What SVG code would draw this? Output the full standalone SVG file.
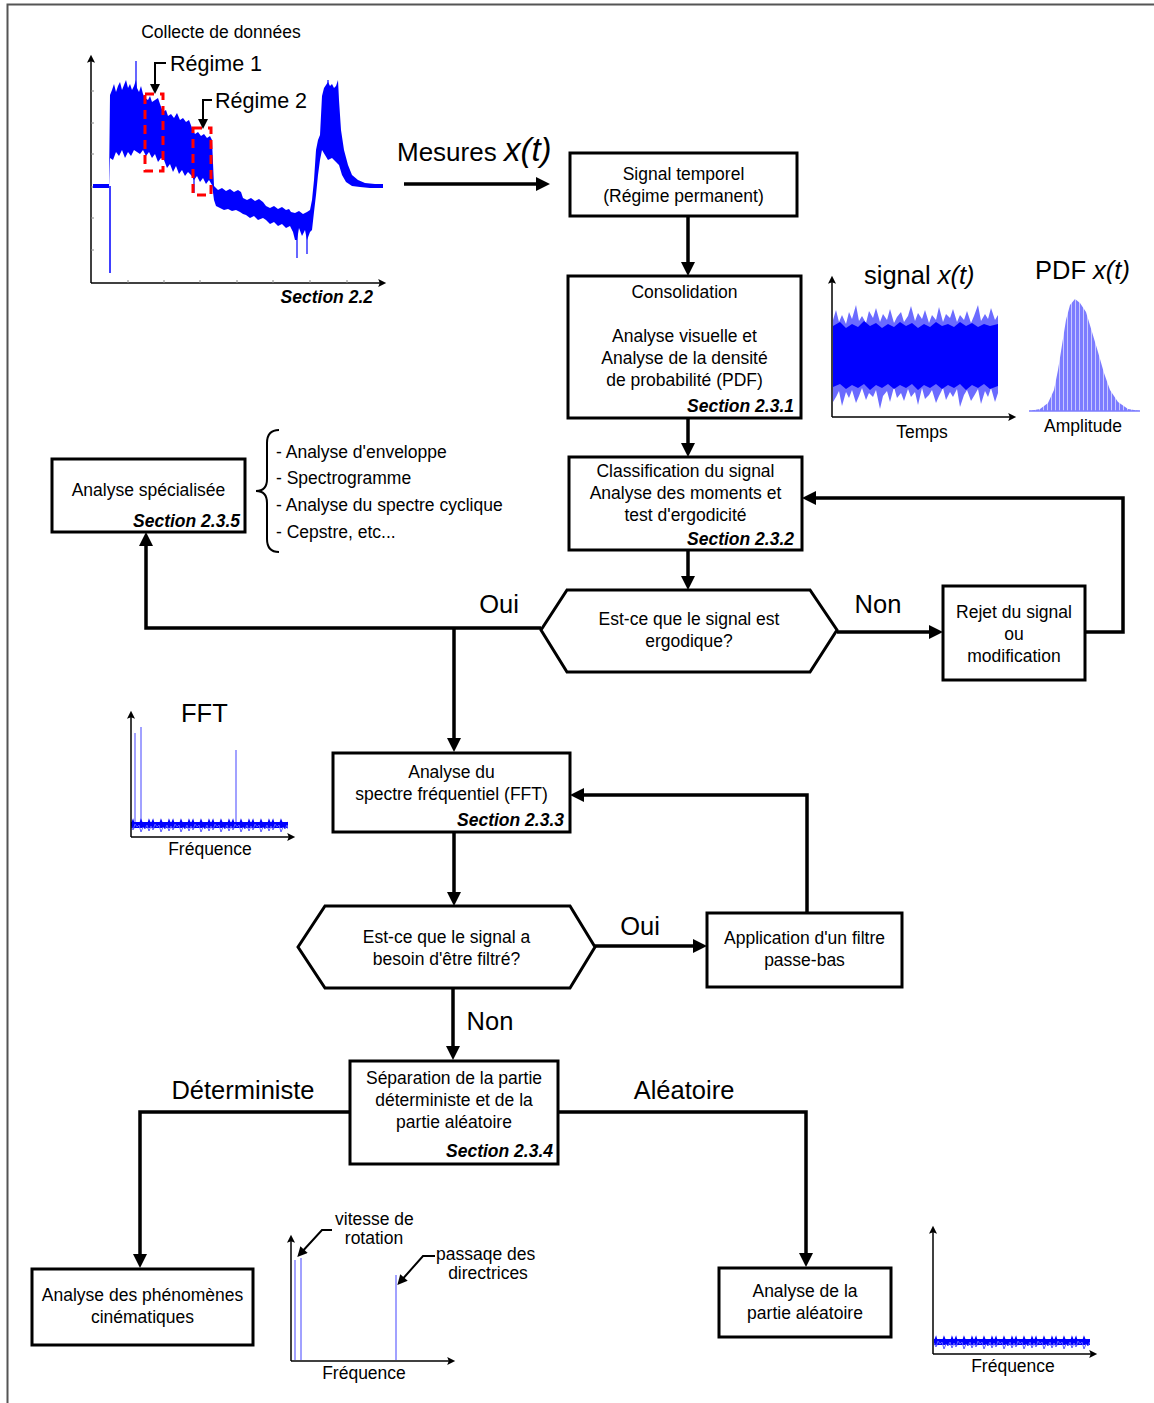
<svg xmlns="http://www.w3.org/2000/svg" width="1154" height="1403" viewBox="0 0 1154 1403">
<defs>
<style>
.box{fill:#fff;stroke:#000;stroke-width:3}
.t{font-family:"Liberation Sans",Arial,sans-serif;font-size:17.5px;fill:#000}
.c{text-anchor:middle}
.sec{font-weight:bold;font-style:italic;text-anchor:end}
.big{font-size:25.5px}
.conn{fill:none;stroke:#000;stroke-width:3.5;marker-end:url(#ah)}
.ax{fill:none;stroke:#000;stroke-width:1.5;marker-end:url(#sa)}
.call{fill:none;stroke:#000;stroke-width:2;marker-end:url(#ca)}
.tick{stroke:#888;stroke-width:1}
.spk{stroke:#6f6fff;stroke-width:1.3}
.n1{fill:none;stroke:#0000ff;stroke-width:1.2}
.n2{fill:none;stroke:#5a5aff;stroke-width:1}
</style>
<marker id="ah" viewBox="0 0 10 10" refX="4.3" refY="5" markerWidth="14" markerHeight="14" markerUnits="userSpaceOnUse" orient="auto"><path d="M0,0 L10,5 L0,10 z" fill="#000"/></marker>
<marker id="sa" viewBox="0 0 10 10" refX="6" refY="5" markerWidth="9" markerHeight="8" markerUnits="userSpaceOnUse" orient="auto"><path d="M0,0 L10,5 L0,10 L2,5 z" fill="#000"/></marker>
<marker id="ca" viewBox="0 0 10 10" refX="6" refY="5" markerWidth="11" markerHeight="10" markerUnits="userSpaceOnUse" orient="auto"><path d="M0,0 L10,5 L0,10 z" fill="#000"/></marker>
<pattern id="stripes" width="4" height="10" patternUnits="userSpaceOnUse"><rect width="4" height="10" fill="#7c7cff"/><rect x="3" width="1" height="10" fill="#c8c8ff"/></pattern>
<clipPath id="clipFft"><rect x="131" y="800" width="157" height="40"/></clipPath>
<clipPath id="clipRand"><rect x="934" y="1320" width="156" height="40"/></clipPath>
<path id="zz1" d="M0,0 l2,-5 l2,7 l2,-4 l2,3 l2,-6 l2,5 l2,-2 l2,4 l2,-7 l2,5 l2,-5 l2,7 l2,-4 l2,3 l2,-6 l2,5 l2,-2 l2,4 l2,-7 l2,5 l2,-5 l2,7 l2,-4 l2,3 l2,-6 l2,5 l2,-2 l2,4 l2,-7 l2,5 l2,-5 l2,7 l2,-4 l2,3 l2,-6 l2,5 l2,-2 l2,4 l2,-7 l2,5 l2,-5 l2,7 l2,-4 l2,3 l2,-6 l2,5 l2,-2 l2,4 l2,-7 l2,5 l2,-5 l2,7 l2,-4 l2,3 l2,-6 l2,5 l2,-2 l2,4 l2,-7 l2,5 l2,-5 l2,7 l2,-4 l2,3 l2,-6 l2,5 l2,-2 l2,4 l2,-7 l2,5 l2,-5 l2,7 l2,-4 l2,3 l2,-6 l2,5 l2,-2 l2,4 l2,-7 l2,5"/>
<path id="zz2" d="M0,0 l2,4 l2,-6 l2,3 l2,-2 l2,7 l2,-5 l2,2 l2,-4 l2,6 l2,-5 l2,4 l2,-6 l2,3 l2,-2 l2,7 l2,-5 l2,2 l2,-4 l2,6 l2,-5 l2,4 l2,-6 l2,3 l2,-2 l2,7 l2,-5 l2,2 l2,-4 l2,6 l2,-5 l2,4 l2,-6 l2,3 l2,-2 l2,7 l2,-5 l2,2 l2,-4 l2,6 l2,-5 l2,4 l2,-6 l2,3 l2,-2 l2,7 l2,-5 l2,2 l2,-4 l2,6 l2,-5 l2,4 l2,-6 l2,3 l2,-2 l2,7 l2,-5 l2,2 l2,-4 l2,6 l2,-5 l2,4 l2,-6 l2,3 l2,-2 l2,7 l2,-5 l2,2 l2,-4 l2,6 l2,-5 l2,4 l2,-6 l2,3 l2,-2 l2,7 l2,-5 l2,2 l2,-4 l2,6 l2,-5"/>
</defs>
<rect width="1154" height="1403" fill="#fff"/>
<path d="M7.5,1403 V4.5 H1154" fill="none" stroke="#555" stroke-width="2"/>

<!-- Top-left data collection plot -->
<g id="plot-collecte">
<text class="t c" x="221" y="38">Collecte de données</text>
<path class="ax" d="M91,283 V58"/>
<path class="ax" d="M91,283 H383"/>
<g class="tick">
<path d="M91,91 h3 M91,123 h3 M91,154 h3 M91,187 h3 M91,218 h3 M91,250 h3"/>
<path d="M128,283 v-3 M164,283 v-3 M200,283 v-3 M237,283 v-3 M273,283 v-3 M310,283 v-3 M347,283 v-3"/>
</g>
<line x1="110" y1="186" x2="110" y2="273" stroke="#0000ff" stroke-width="1.5"/>
<line x1="136" y1="100" x2="136" y2="61" stroke="#0000ff" stroke-width="1.2"/>
<line x1="328" y1="90" x2="328" y2="80" stroke="#0000ff" stroke-width="1.2"/>
<line x1="297" y1="220" x2="297" y2="258" stroke="#0000ff" stroke-width="1.2"/>
<line x1="307" y1="220" x2="307" y2="254" stroke="#0000ff" stroke-width="1.2"/>
<line x1="194" y1="170" x2="194" y2="193" stroke="#0000ff" stroke-width="1.2"/>
<polygon fill="#0000ff" points="93,184 109,184 110,95 112,90 114,84 116,92 118,86 120,82 122,90 124,85 126,80 128,88 130,84 132,90 134,86 136,80 137,88 139,92 141,86 143,94 145,98 148,100 150,96 152,102 155,100 158,98 160,104 163,112 166,110 168,116 171,114 174,118 177,113 180,120 183,118 186,122 189,120 192,128 195,134 198,132 201,136 204,134 207,138 210,136 212,140 214,186 218,190 222,188 226,191 230,189 234,192 238,190 241,192 243,198 247,200 251,198 255,201 259,199 263,202 266,206 270,208 274,206 278,209 282,207 286,210 289,209 291,212 295,213 299,211 303,214 307,212 310,210 312,200 314,180 316,150 318,140 320,135 322,96 324,88 326,85 328,82 330,86 332,84 334,88 336,86 338,80 339,100 341,130 344,150 348,165 352,175 358,180 365,183 375,184 383,184 383,188 370,188 360,187 352,186 346,182 342,175 339,165 336,162 332,158 328,160 325,155 322,150 320,160 318,175 316,195 314,212 312,230 310,232 307,240 305,230 302,236 299,228 297,240 295,240 293,232 290,226 286,228 282,224 278,226 274,222 270,224 266,220 263,218 258,220 254,216 250,218 246,215 243,214 240,212 236,210 232,211 228,209 224,210 220,208 216,206 214,200 212,185 209,180 206,184 203,178 200,182 197,176 194,180 191,175 188,172 185,176 182,170 179,174 176,166 173,172 170,164 167,168 164,160 161,158 158,162 155,154 152,158 149,152 146,156 143,150 140,154 137,152 134,150 131,156 128,152 125,158 122,150 119,156 116,152 113,160 110,158 109,188 93,188"/>
<g fill="none" stroke="#ff0000" stroke-width="3" stroke-dasharray="9,6">
<rect x="145" y="94" width="18" height="77"/>
<rect x="193" y="128" width="18" height="67"/>
</g>
<path class="call" d="M166,63 H155 V90"/>
<path class="call" d="M212,100 H203 V125"/>
<text class="t" x="170" y="71" style="font-size:21.5px">Régime 1</text>
<text class="t" x="215" y="108" style="font-size:21.5px">Régime 2</text>
<text class="t sec" x="373" y="303">Section 2.2</text>
</g>

<g id="label-mesures">
<text class="t" x="397" y="161" style="font-size:26px">Mesures <tspan style="font-style:italic;font-size:33px">x(t)</tspan></text>
</g>

<!-- signal x(t) plot -->
<g id="plot-signal">
<text class="t" x="864" y="284" style="font-size:25.5px">signal <tspan font-style="italic">x(t)</tspan></text>
<polygon fill="#6b6bff" points="833,320 836,310 839,322 842,315 846,324 849,312 852,319 856,305 859,321 862,316 866,323 869,311 873,318 876,308 880,322 883,314 887,320 890,309 894,323 897,317 901,312 904,322 908,316 911,306 915,321 918,313 922,319 925,310 929,323 932,315 936,320 939,307 943,322 946,314 950,318 953,309 957,322 960,315 964,320 967,311 971,323 974,316 978,305 981,321 985,314 988,319 991,308 995,320 998,315 998,393 995,402 991,388 988,397 985,391 981,404 978,389 974,396 971,401 967,390 964,395 960,407 957,389 953,397 950,392 946,400 943,388 939,396 936,403 932,390 929,395 925,399 922,388 918,405 915,392 911,397 908,389 904,401 901,393 897,398 894,387 890,402 887,391 883,396 880,409 876,390 873,397 869,393 866,400 862,388 859,396 856,403 852,390 849,398 846,392 842,406 839,391 836,397 833,402"/>
<polygon fill="#0000ff" points="833,326 840,322 846,328 852,324 858,327 864,321 870,326 876,323 882,328 888,324 894,327 900,322 906,326 912,323 918,328 924,324 930,327 936,322 942,326 948,324 954,327 960,322 966,326 972,323 978,327 984,324 990,326 998,324 998,386 990,389 984,384 978,388 972,385 966,390 960,384 954,388 948,385 942,389 936,384 930,388 924,385 918,390 912,384 906,388 900,385 894,389 888,384 882,388 876,385 870,390 864,384 858,388 852,385 846,389 840,384 833,387"/>
<path class="ax" d="M832,417 V279"/>
<path class="ax" d="M832,417 H1013"/>
<text class="t c" x="922" y="438">Temps</text>
</g>

<!-- PDF plot -->
<g id="plot-pdf">
<text class="t" x="1035" y="279" style="font-size:25.5px">PDF <tspan font-style="italic">x(t)</tspan></text>
<path fill="url(#stripes)" d="M1029,411 L1040,409 L1048,403 L1054,390 L1058,370 L1062,345 L1066,320 L1070,305 L1075,299 L1080,303 L1086,312 L1092,332 L1098,352 L1104,373 L1110,390 L1118,402 L1128,409 L1140,411 Z"/>
<line x1="1029" y1="411" x2="1140" y2="411" stroke="#7c7cff" stroke-width="1.5"/>
<text class="t c" x="1083" y="432">Amplitude</text>
</g>

<!-- FFT plot -->
<g id="plot-fft">
<text class="t" x="181" y="722" style="font-size:25.5px">FFT</text>
<line class="spk" x1="135" y1="825" x2="135" y2="733"/>
<line class="spk" x1="141" y1="825" x2="141" y2="727"/>
<line class="spk" x1="236" y1="825" x2="236" y2="750"/>
<g clip-path="url(#clipFft)">
<rect x="131" y="822" width="157" height="6" fill="#0000ff"/>
<use href="#zz1" x="131" y="825" class="n1"/>
<use href="#zz2" x="131" y="826" class="n2"/>
</g>
<path class="ax" d="M131,837 V714"/>
<path class="ax" d="M131,837 H292"/>
<text class="t c" x="210" y="855">Fréquence</text>
</g>

<!-- Deterministic spectrum plot -->
<g id="plot-det">
<line class="spk" x1="295" y1="1360" x2="295" y2="1260"/>
<line class="spk" x1="301" y1="1360" x2="301" y2="1258"/>
<line class="spk" x1="396" y1="1360" x2="396" y2="1275"/>
<path class="ax" d="M291,1361 V1238"/>
<path class="ax" d="M291,1361 H452"/>
<path class="call" d="M332,1230 H322 L300,1254"/>
<path class="call" d="M435,1256 H423 L400,1282"/>
<text class="t" x="335" y="1225">vitesse de</text>
<text class="t c" x="374" y="1244">rotation</text>
<text class="t" x="436" y="1260">passaqe des</text>
<text class="t c" x="488" y="1279">directrices</text>
<text class="t c" x="364" y="1379">Fréquence</text>
</g>

<!-- Random spectrum plot -->
<g id="plot-rand">
<g clip-path="url(#clipRand)">
<rect x="934" y="1339" width="156" height="6" fill="#0000ff"/>
<use href="#zz1" x="934" y="1342" class="n1"/>
<use href="#zz2" x="934" y="1343" class="n2"/>
</g>
<path class="ax" d="M933,1354 V1229"/>
<path class="ax" d="M933,1354 H1094"/>
<text class="t c" x="1013" y="1372">Fréquence</text>
</g>

<!-- Connectors -->
<g id="connectors">
<path class="conn" d="M404,184 H542"/>
<path class="conn" d="M688,216 V268"/>
<path class="conn" d="M688,418 V449"/>
<path class="conn" d="M688,550 V582"/>
<path class="conn" d="M837,632 H935"/>
<path class="conn" d="M1085,632 H1123 V498 H810"/>
<path class="conn" d="M541,628 H146 V540"/>
<path class="conn" d="M454,628 V744"/>
<path class="conn" d="M454,832 V898"/>
<path class="conn" d="M595,946 H699"/>
<path class="conn" d="M807,913 V795 H578"/>
<path class="conn" d="M453,988 V1052"/>
<path class="conn" d="M350,1112 H140 V1260"/>
<path class="conn" d="M558,1112 H806 V1259"/>
<text class="t big c" x="499" y="613">Oui</text>
<text class="t big c" x="878" y="613">Non</text>
<text class="t big c" x="640" y="935">Oui</text>
<text class="t big c" x="490" y="1030">Non</text>
<text class="t big c" x="243" y="1099">Déterministe</text>
<text class="t big c" x="684" y="1099">Aléatoire</text>
</g>

<!-- Nodes -->
<g id="n-signal-temporel">
<rect class="box" x="570" y="153" width="227" height="63"/>
<text class="t c" x="683.5" y="180">Signal temporel</text>
<text class="t c" x="683.5" y="202">(Régime permanent)</text>
</g>
<g id="n-consolidation">
<rect class="box" x="568" y="276" width="233" height="142"/>
<text class="t c" x="684.5" y="298">Consolidation</text>
<text class="t c" x="684.5" y="342">Analyse visuelle et</text>
<text class="t c" x="684.5" y="364">Analyse de la densité</text>
<text class="t c" x="684.5" y="386">de probabilité (PDF)</text>
<text class="t sec" x="794" y="412">Section 2.3.1</text>
</g>
<g id="n-classification">
<rect class="box" x="569" y="457" width="233" height="93"/>
<text class="t c" x="685.5" y="477">Classification du signal</text>
<text class="t c" x="685.5" y="499">Analyse des moments et</text>
<text class="t c" x="685.5" y="521">test d'ergodicité</text>
<text class="t sec" x="794" y="545">Section 2.3.2</text>
</g>
<g id="n-ergodique">
<polygon class="box" points="541,630 567,590 810,590 837,630 810,672 567,672"/>
<text class="t c" x="689" y="625">Est-ce que le signal est</text>
<text class="t c" x="689" y="647">ergodique?</text>
</g>
<g id="n-rejet">
<rect class="box" x="943" y="586" width="142" height="94"/>
<text class="t c" x="1014" y="618">Rejet du signal</text>
<text class="t c" x="1014" y="640">ou</text>
<text class="t c" x="1014" y="662">modification</text>
</g>
<g id="n-specialisee">
<rect class="box" x="52" y="459" width="193" height="73"/>
<text class="t c" x="148.5" y="496">Analyse spécialisée</text>
<text class="t sec" x="240" y="527">Section 2.3.5</text>
</g>
<g id="n-liste">
<path d="M279,430 Q267,430 267,443 V479 Q267,491 256,491 Q267,491 267,503 V539 Q267,552 279,552" fill="none" stroke="#000" stroke-width="2"/>
<text class="t" x="276" y="458">- Analyse d'enveloppe</text>
<text class="t" x="276" y="484">- Spectrogramme</text>
<text class="t" x="276" y="511">- Analyse du spectre cyclique</text>
<text class="t" x="276" y="538">- Cepstre, etc...</text>
</g>
<g id="n-fft">
<rect class="box" x="333" y="753" width="237" height="79"/>
<text class="t c" x="451.5" y="778">Analyse du</text>
<text class="t c" x="451.5" y="800">spectre fréquentiel (FFT)</text>
<text class="t sec" x="564" y="826">Section 2.3.3</text>
</g>
<g id="n-filtre-q">
<polygon class="box" points="298,947 325,906 570,906 595,947 570,988 325,988"/>
<text class="t c" x="446.5" y="943">Est-ce que le signal a</text>
<text class="t c" x="446.5" y="965">besoin d'être filtré?</text>
</g>
<g id="n-application">
<rect class="box" x="707" y="913" width="195" height="74"/>
<text class="t c" x="804.5" y="944">Application d'un filtre</text>
<text class="t c" x="804.5" y="966">passe-bas</text>
</g>
<g id="n-separation">
<rect class="box" x="350" y="1061" width="208" height="103"/>
<text class="t c" x="454" y="1084">Séparation de la partie</text>
<text class="t c" x="454" y="1106">déterministe et de la</text>
<text class="t c" x="454" y="1128">partie aléatoire</text>
<text class="t sec" x="553" y="1157">Section 2.3.4</text>
</g>
<g id="n-phenomenes">
<rect class="box" x="32" y="1269" width="221" height="76"/>
<text class="t c" x="142.5" y="1301">Analyse des phénomènes</text>
<text class="t c" x="142.5" y="1323">cinématiques</text>
</g>
<g id="n-aleatoire">
<rect class="box" x="719" y="1268" width="172" height="69"/>
<text class="t c" x="805" y="1297">Analyse de la</text>
<text class="t c" x="805" y="1319">partie aléatoire</text>
</g>
</svg>
